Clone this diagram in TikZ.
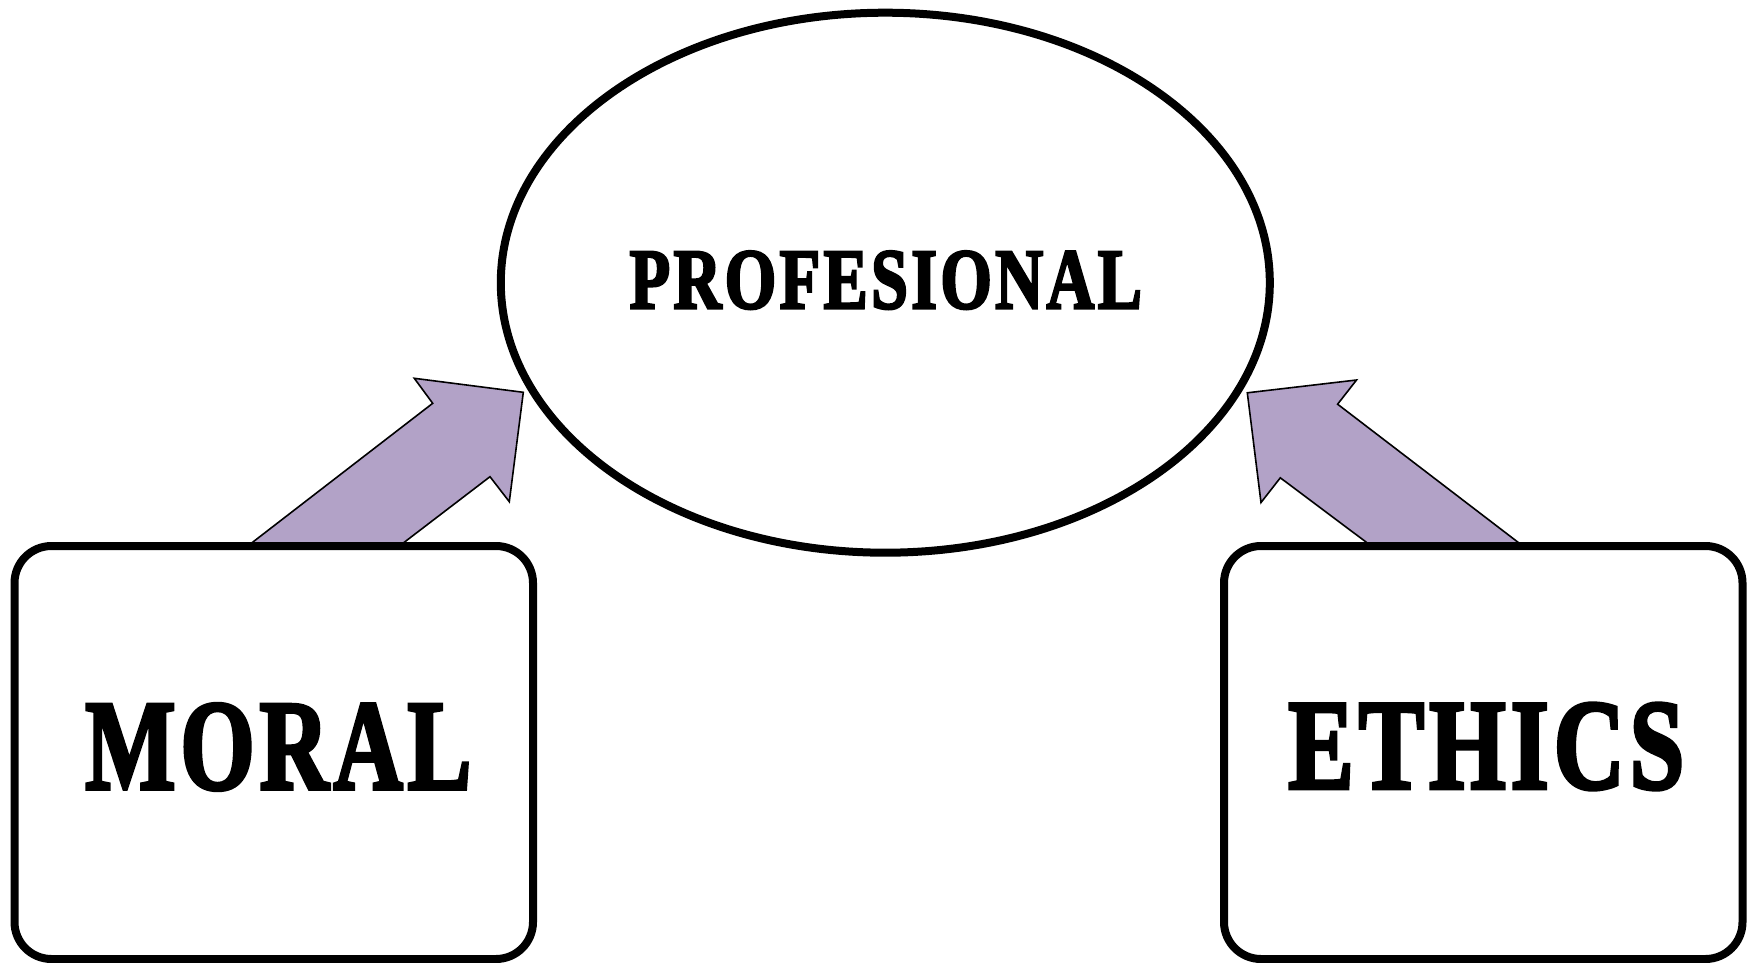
\documentclass[tikz,border=0pt]{standalone}
\usepackage{fontspec}
\usetikzlibrary{shapes.geometric,shadows}
\newfontfamily\hf{Liberation Serif Bold}[FakeBold=3.2,LetterSpace=5]
\definecolor{arrowfill}{HTML}{B2A2C7}
\begin{document}
\begin{tikzpicture}[x=1pt,y=-1pt,
  softshadow/.style={drop shadow={shadow xshift=2pt,shadow yshift=-2.5pt,opacity=0.18,fill=black}},
  boxnode/.style={draw=black, line width=8pt, rounded corners=37pt, fill=white,
    minimum width=518.5pt, minimum height=413pt, inner sep=0pt, softshadow},
  ovalnode/.style={ellipse, draw=black, line width=8pt, fill=white,
    minimum width=769pt, minimum height=540pt, inner sep=0pt, softshadow},
  lbl/.style={inner sep=0pt, font=\hf},
  blockarrow/.style={fill=arrowfill, draw=black, line width=1.6pt, line join=miter}]
\useasboundingbox (0,0) rectangle (1755,963);
\fill[white] (0,0) rectangle (1755,963);

% block arrows (drawn first, their bases hidden by the boxes)
\coordinate (ltip) at (523.3,392.3);
\coordinate (rtip) at (1247.3,392.8);
\draw[blockarrow] (177.7,600) -- (253.3,541.7) -- (432.7,403.3) -- (414.3,378.3)
  -- (ltip) -- (509.3,501.7) -- (490,476.7) -- (405,541.7) -- (328.8,600) -- cycle;
\draw[blockarrow] (1592.9,600) -- (1517.3,541.7) -- (1337.6,404.2) -- (1356.5,380)
  -- (rtip) -- (1261,502.5) -- (1280.3,477.8) -- (1365.6,541.7) -- (1441.8,600) -- cycle;

% boxes
\node[boxnode] (moral) at (273.75,752.5) {};
\node[boxnode] (ethics) at (1483.25,752.5) {};
\node[lbl] (moraltxt) at ([shift={(4.5,-5.5)}]moral.center) {\resizebox{386pt}{85pt}{MORAL}};
\node[lbl] (ethicstxt) at ([shift={(3,-6)}]ethics.center) {\resizebox{396pt}{85pt}{ETHICS}};

% ellipse
\node[ovalnode] (prof) at (885.3,282.7) {};
\node[lbl] (proftxt) at ([shift={(0.5,-2.5)}]prof.center) {\resizebox{512pt}{57pt}{PROFESIONAL}};
\end{tikzpicture}
\end{document}
